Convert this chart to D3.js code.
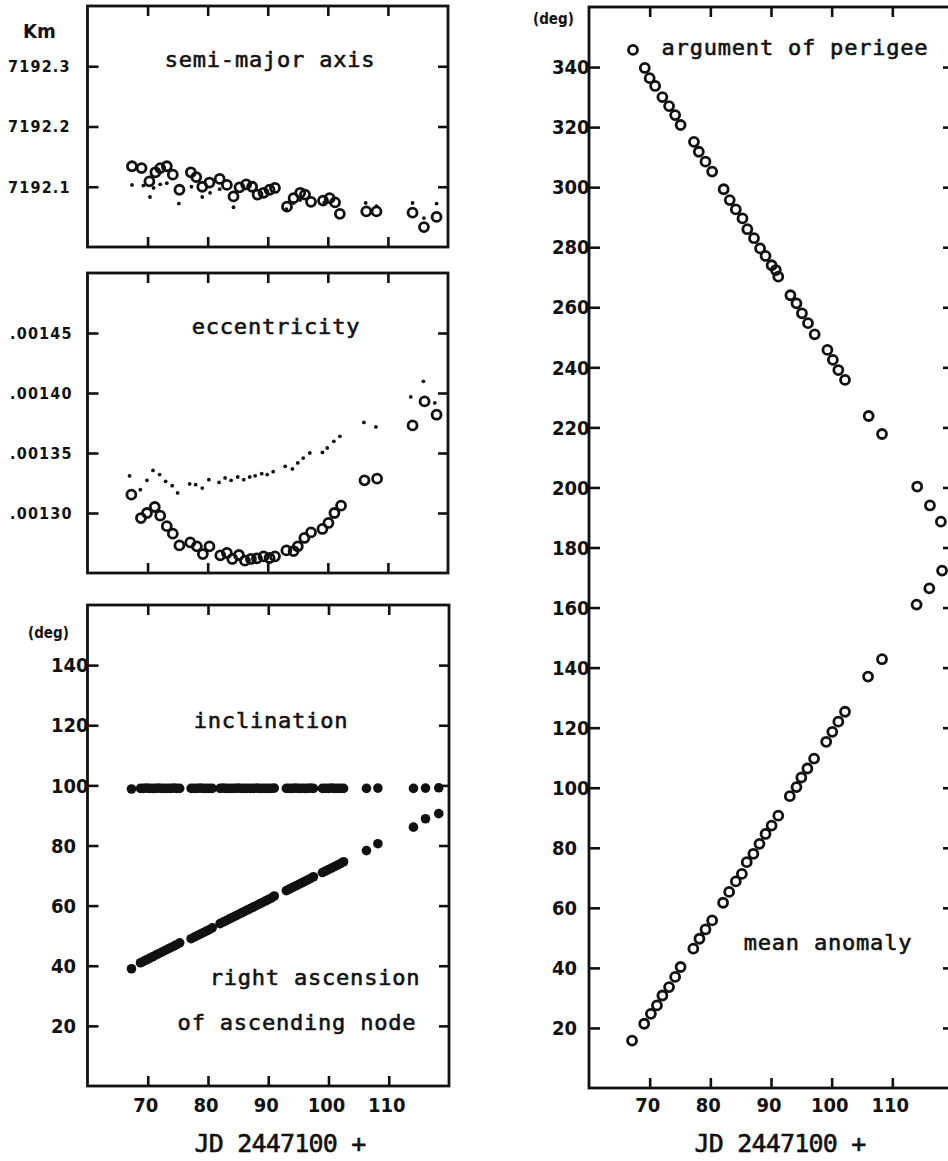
<!DOCTYPE html>
<html>
<head>
<meta charset="utf-8">
<script src="https://cdn.jsdelivr.net/npm/d3@7"></script>
<style>
  body { margin: 0; background: #fff; }
  svg { display: block; }
  .lab { font-family: "Liberation Sans Narrow", "DejaVu Sans Condensed", sans-serif; font-weight: bold; fill: #111; }
  .ttl { font-family: "DejaVu Sans Mono", monospace; fill: #111; stroke: #111; stroke-width: 0.6px; }
</style>
</head>
<body>
<svg id="chart" width="948" height="1161"></svg>
<script>
// x axis (JD 2447100 +) ticks shared by every panel
const xTicks = [70, 80, 90, 100, 110]

// semi-major axis (Km): open circles and small dots
const smaJD = [67.4, 69.0, 70.3, 71.3, 72.1, 73.2, 74.2, 75.3, 77.2, 78.1, 79.1, 80.3, 82.0, 83.2, 84.3, 85.3, 86.4, 87.4, 88.3, 89.3, 90.3, 91.2, 93.2, 94.3, 95.4, 96.2, 97.2, 99.2, 100.3, 101.2, 102.0, 106.4, 108.1, 114.1, 116.0, 118.1]
const smaVal = [7192.134, 7192.131, 7192.109, 7192.124, 7192.131, 7192.134, 7192.120, 7192.095, 7192.124, 7192.116, 7192.100, 7192.107, 7192.113, 7192.103, 7192.084, 7192.099, 7192.104, 7192.100, 7192.087, 7192.090, 7192.095, 7192.098, 7192.067, 7192.081, 7192.090, 7192.087, 7192.075, 7192.077, 7192.081, 7192.074, 7192.055, 7192.059, 7192.059, 7192.057, 7192.033, 7192.050]
const smaDotJD = [67.4, 69.3, 70.4, 71.0, 72.1, 73.2, 75.2, 77.3, 79.1, 80.4, 82.0, 84.3, 93.1, 94.3, 95.4, 99.4, 106.3, 108.1, 114.1, 116.0, 118.1]
const smaDotVal = [7192.103, 7192.102, 7192.083, 7192.098, 7192.104, 7192.106, 7192.072, 7192.100, 7192.083, 7192.090, 7192.096, 7192.066, 7192.063, 7192.073, 7192.078, 7192.074, 7192.073, 7192.068, 7192.073, 7192.048, 7192.072]
const smaTicks = [7192.1, 7192.2, 7192.3]

// eccentricity: open circles and small dots
const eccJD = [67.3, 68.9, 69.9, 71.2, 72.1, 73.2, 74.2, 75.3, 77.1, 78.2, 79.2, 80.3, 82.1, 83.2, 84.1, 85.2, 86.2, 87.2, 88.2, 89.3, 90.3, 91.2, 93.1, 94.3, 95.0, 96.1, 97.2, 99.1, 100.1, 101.1, 102.2, 106.1, 108.2, 114.1, 116.1, 118.1]
const eccVal = [.0013153, .0012958, .0013000, .0013050, .0012978, .0012890, .0012828, .0012730, .0012755, .0012722, .0012658, .0012722, .0012647, .0012667, .0012617, .0012650, .0012603, .0012617, .0012622, .0012638, .0012625, .0012638, .0012688, .0012683, .0012722, .0012792, .0012838, .0012867, .0012917, .0013000, .0013061, .0013272, .0013286, .0013730, .0013930, .0013819]
const eccDotJD = [67.0, 68.8, 69.9, 70.9, 72.0, 73.0, 74.1, 75.0, 77.0, 78.0, 79.1, 80.2, 81.9, 82.9, 83.9, 85.0, 86.0, 87.0, 87.9, 89.0, 89.9, 90.9, 92.9, 94.1, 95.0, 95.9, 97.0, 99.1, 99.9, 101.0, 102.0, 106.0, 108.0, 113.8, 115.9, 117.8]
const eccDotVal = [.0013310, .0013194, .0013272, .0013355, .0013320, .0013264, .0013228, .0013167, .0013242, .0013236, .0013208, .0013278, .0013255, .0013292, .0013272, .0013300, .0013278, .0013300, .0013310, .0013328, .0013320, .0013344, .0013389, .0013367, .0013417, .0013458, .0013500, .0013505, .0013542, .0013597, .0013639, .0013755, .0013717, .0013967, .0014097, .0013917]
const eccTicks = [.00130, .00135, .00140, .00145]

// inclination and right ascension of ascending node (deg)
const nodeJD = [67.3, 68.8, 69.3, 69.8, 70.3, 70.8, 71.3, 71.8, 72.3, 72.8, 73.3, 73.8, 74.3, 74.8, 75.3, 77.2, 77.7, 78.2, 78.7, 79.2, 79.7, 80.2, 80.7, 82.0, 82.5, 83.0, 83.5, 84.0, 84.5, 85.0, 85.5, 86.0, 86.5, 87.0, 87.5, 88.0, 88.5, 89.0, 89.5, 90.0, 90.5, 91.0, 93.0, 93.5, 94.0, 94.5, 95.0, 95.5, 96.0, 96.5, 97.0, 97.5, 99.0, 99.5, 100.0, 100.5, 101.0, 101.5, 102.0, 102.5, 106.3, 108.2, 114.1, 116.1, 118.3]
const inclVal = [98.8, 99.0, 99.0, 99.1, 99.0, 99.0, 99.0, 99.1, 99.0, 99.0, 99.0, 99.0, 99.1, 99.0, 99.0, 99.0, 99.0, 99.0, 99.1, 99.0, 99.0, 99.0, 99.0, 99.0, 99.1, 99.0, 99.0, 99.0, 99.0, 99.1, 99.0, 99.0, 99.0, 99.0, 99.0, 99.1, 99.0, 99.0, 99.0, 99.0, 99.0, 99.1, 99.0, 99.0, 99.0, 99.1, 99.0, 99.0, 99.0, 99.0, 99.1, 99.0, 99.0, 99.0, 99.0, 99.1, 99.0, 99.0, 99.0, 99.0, 99.0, 99.1, 99.0, 99.1, 99.2]
const raanVal = [39.0, 41.0, 41.5, 42.0, 42.5, 43.0, 43.5, 44.0, 44.5, 45.0, 45.5, 46.0, 46.5, 47.0, 47.6, 49.0, 49.5, 50.0, 50.5, 51.0, 51.5, 52.0, 52.6, 54.0, 54.5, 55.0, 55.5, 56.0, 56.5, 57.0, 57.5, 58.0, 58.5, 59.0, 59.5, 60.0, 60.5, 61.0, 61.5, 62.0, 62.5, 63.2, 65.0, 65.5, 66.0, 66.5, 67.0, 67.5, 68.0, 68.5, 69.0, 69.6, 71.0, 71.5, 72.0, 72.5, 73.0, 73.5, 74.0, 74.6, 78.3, 80.6, 86.1, 88.9, 90.6]
const degTicks = [20, 40, 60, 80, 100, 120, 140]

// argument of perigee and mean anomaly (deg)
const argJD = [67.25, 69.2, 70.0, 70.9, 72.1, 73.2, 74.2, 75.1, 77.3, 78.1, 79.2, 80.3, 82.2, 83.2, 84.2, 85.3, 86.1, 87.2, 88.2, 89.1, 90.1, 90.8, 91.2, 93.2, 94.2, 95.1, 96.1, 97.2, 99.3, 100.2, 101.1, 102.2, 106.1, 108.3, 114.1, 116.2, 118.0]
const argVal = [345.7, 339.7, 336.3, 333.7, 330.0, 327.0, 324.0, 320.7, 315.1, 311.8, 308.5, 305.2, 299.3, 295.7, 292.6, 289.6, 286.0, 283.0, 279.6, 277.1, 274.0, 272.4, 270.2, 264.0, 261.3, 258.0, 254.7, 251.0, 245.8, 242.5, 239.1, 235.8, 223.8, 217.8, 200.3, 194.0, 188.6]
const meanJD = [67.1, 69.1, 70.2, 71.2, 72.1, 73.2, 74.2, 75.1, 77.2, 78.2, 79.2, 80.3, 82.1, 83.1, 84.2, 85.2, 86.0, 87.1, 88.1, 89.1, 90.1, 91.2, 93.1, 94.2, 95.0, 96.0, 97.1, 99.1, 100.1, 101.1, 102.2, 106.0, 108.3, 114.0, 116.1, 118.2]
const meanVal = [15.8, 21.4, 24.7, 27.5, 30.8, 33.6, 37.0, 40.3, 46.4, 49.7, 52.8, 55.8, 61.7, 65.3, 68.8, 71.3, 75.2, 78.0, 81.3, 84.6, 87.4, 90.7, 97.2, 100.2, 103.4, 106.4, 109.7, 115.3, 118.6, 122.0, 125.3, 137.0, 142.8, 161.0, 166.4, 172.3]
const angTicks = [20, 40, 60, 80, 100, 120, 140, 160, 180, 200, 220, 240, 260, 280, 300, 320, 340]

const ink = "#111"
const svg = d3.select("#chart")

// one framed panel with inward ticks on all four sides
function makePanel(p) {
    const x = d3.scaleLinear().domain([60, 120]).range([p.left, p.right])
    const y = d3.scaleLinear().domain(p.yDomain).range([p.bottom, p.top])
    const g = svg.append("g")

    g.append("g").attr("transform", `translate(0,${p.top})`)
        .call(d3.axisTop(x).tickValues(xTicks).tickSize(-10).tickFormat(""))
    g.append("g").attr("transform", `translate(0,${p.bottom})`)
        .call(d3.axisBottom(x).tickValues(xTicks).tickSize(-10).tickFormat(""))
    g.append("g").attr("transform", `translate(${p.left},0)`)
        .call(d3.axisLeft(y).tickValues(p.yTicks).tickSize(-11).tickFormat(""))
    g.append("g").attr("transform", `translate(${p.right},0)`)
        .call(d3.axisRight(y).tickValues(p.yTicks).tickSize(-10).tickFormat(""))
    g.selectAll(".domain").remove()
    g.selectAll(".tick line").attr("stroke", ink).attr("stroke-width", 2.6)

    g.append("rect")
        .attr("x", p.left).attr("y", p.top)
        .attr("width", p.right - p.left).attr("height", p.bottom - p.top)
        .attr("fill", "none").attr("stroke", ink).attr("stroke-width", 2.8)

    // y tick labels, left aligned like the plotter wrote them
    g.selectAll(".ylab").data(p.yTicks).join("text")
        .attr("class", "lab")
        .attr("x", p.labelX)
        .attr("y", d => y(d))
        .attr("dy", "0.36em")
        .style("font-size", p.labelSize + "px")
        .style("letter-spacing", p.labelSpacing + "px")
        .text(p.fmt)

    if (p.xLabels) {
        g.selectAll(".xlab").data(xTicks).join("text")
            .attr("class", "lab")
            .attr("x", d => x(d) - 2)
            .attr("y", 1112)
            .attr("text-anchor", "middle")
            .style("font-size", "20px")
            .text(d => d)
    }
    return { x, y, g }
}

function openCircles(pn, xs, ys, r) {
    pn.g.selectAll(null).data(xs).join("circle")
        .attr("cx", d => pn.x(d))
        .attr("cy", (d, i) => pn.y(ys[i]))
        .attr("r", r)
        .attr("fill", "none").attr("stroke", ink).attr("stroke-width", 2.8)
}

function dots(pn, xs, ys, r) {
    pn.g.selectAll(null).data(xs).join("circle")
        .attr("cx", d => pn.x(d))
        .attr("cy", (d, i) => pn.y(ys[i]))
        .attr("r", r)
        .attr("fill", ink)
}

function title(txt, cx, base, size, spacing) {
    svg.append("text").attr("class", "ttl")
        .attr("x", cx).attr("y", base)
        .attr("text-anchor", "middle")
        .style("font-size", size + "px")
        .style("letter-spacing", spacing + "px")
        .text(txt)
}

function label(txt, x, y, size) {
    svg.append("text").attr("class", "lab")
        .attr("x", x).attr("y", y)
        .style("font-size", size + "px")
        .text(txt)
}

// semi-major axis
const p1 = makePanel({
    left: 87.5, right: 448, top: 6, bottom: 247,
    yDomain: [7192.0, 7192.4], yTicks: smaTicks,
    labelX: 8, labelSize: 16, labelSpacing: 1.2, fmt: d3.format(".1f")
})
openCircles(p1, smaJD, smaVal, 4.5)
dots(p1, smaDotJD, smaDotVal, 1.9)

// eccentricity
const p2 = makePanel({
    left: 87.5, right: 448, top: 273, bottom: 573,
    yDomain: [.00125, .00150], yTicks: eccTicks,
    labelX: 10, labelSize: 16, labelSpacing: 1.2, fmt: d => d3.format(".5f")(d).replace(/^0/, "")
})
openCircles(p2, eccJD, eccVal, 4.5)
dots(p2, eccDotJD, eccDotVal, 1.9)

// inclination + right ascension
const p3 = makePanel({
    left: 87.5, right: 449, top: 605, bottom: 1086,
    yDomain: [0, 160], yTicks: degTicks,
    labelX: 51, labelSize: 20, labelSpacing: 0, fmt: d3.format("d"), xLabels: true
})
dots(p3, nodeJD, inclVal, 4.8)
dots(p3, nodeJD, raanVal, 4.8)

// argument of perigee + mean anomaly
const p4 = makePanel({
    left: 589, right: 953, top: 7, bottom: 1088,
    yDomain: [0, 360], yTicks: angTicks,
    labelX: 552, labelSize: 20, labelSpacing: 0, fmt: d3.format("d"), xLabels: true
})
openCircles(p4, argJD, argVal, 4.5)
openCircles(p4, meanJD, meanVal, 4.5)

// texts
label("Km", 23, 38, 20)
label("(deg)", 28, 638, 15)
label("(deg)", 533, 24, 15)

title("semi-major axis", 270, 67, 22, 0.8)
title("eccentricity", 276, 334, 22, 0.8)
title("inclination", 271, 728, 22, 0.8)
title("right ascension", 315, 985, 22, 0.8)
title("of ascending node", 297, 1030, 22, 0.8)
title("argument of perigee", 795, 55, 22, 0.8)
title("mean anomaly", 828, 950, 22, 0.8)
title("JD 2447100 +", 280, 1152, 25, -0.8)
title("JD 2447100 +", 780, 1152, 25, -0.8)
</script>
</body>
</html>
